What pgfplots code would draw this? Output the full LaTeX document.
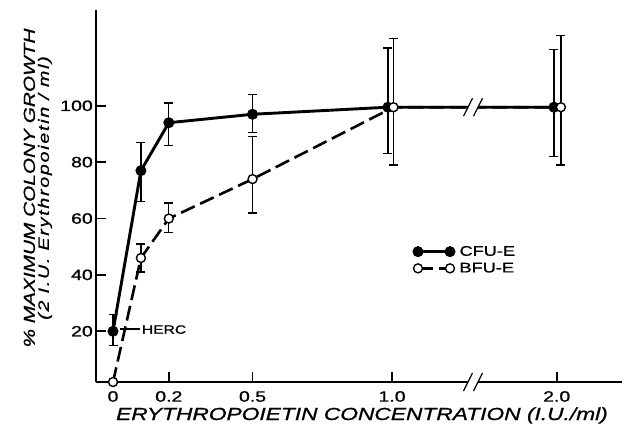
\documentclass[border=0pt]{standalone}
\usepackage{fontspec}
\setmainfont{Liberation Sans}[FakeStretch=1.3,FakeBold=1]
\usepackage{pgfplots}
\pgfplotsset{compat=1.18}
\usepackage{pgfplotstable}

% x positions: 0..1 linear; 2.0 I.U./ml is drawn at 1.59 (broken axis)
\pgfplotstableread{
x y ep em
0 20 6 5
0.1 77 10 11
0.2 94 7 8
0.5 97 7 6.5
0.985 99.5 21 16.5
1.58 99.5 20.5 17.5
}\cfue
\pgfplotstableread{
x y ep em
0 2 0 0
0.1 46 5 5
0.2 60 5.5 5
0.5 74 15 12
1.005 99.5 24.5 20.5
1.605 99.5 25.5 20.5
}\bfue

\begin{document}
\begin{tikzpicture}
\begin{axis}[name=ax, scale only axis, width=526bp, height=372bp,
  xmin=-0.061, xmax=1.824, ymin=2, ymax=134,
  clip=false,
  axis x line*=bottom, axis y line*=left,
  axis line style={-, line width=1.6bp},
  tick align=inside, major tick length=10bp, tick style={line width=1.6bp, black},
  xtick={0.2,0.5,1,1.59}, xticklabels={0.2,0.5,1.0,2.0},
  extra x ticks={0}, extra x tick labels={0}, extra x tick style={major tick length=0pt},
  ytick={20,40,60,80,100},
  /pgf/number format/assume math mode=true,
  ticklabel style={font=\fontsize{15bp}{18bp}\selectfont},
  xticklabel style={anchor=north, inner sep=0pt, yshift=-9bp},
  yticklabel style={anchor=east, inner sep=0pt, xshift=-3bp},
  xlabel={\itshape ERYTHROPOIETIN CONCENTRATION (I.U./ml)},
  xlabel style={font=\fontsize{17.5bp}{20bp}\selectfont, at={(axis description cs:0.5057,0)}, anchor=base, yshift=-38bp, inner sep=0pt},
  ylabel={\itshape \% MAXIMUM COLONY GROWTH\\{\fontsize{15bp}{14bp}\selectfont\itshape\addfontfeature{LetterSpace=12}(2 I.U. Erythropoietin / ml)}},
  ylabel style={font=\fontsize{16bp}{14bp}\selectfont, align=center, at={(axis description cs:-0.0833,0.5215)}, anchor=south, inner sep=0pt},
  legend style={at={(axis cs:1.075,45.3)}, anchor=west, draw=none, fill=none, inner sep=0pt, outer sep=0pt,
    font=\fontsize{14bp}{18bp}\selectfont, row sep=2.5bp, column sep=3bp, nodes={inner sep=1.5bp}},
  legend cell align=left,
  legend image code/.code={\draw[mark repeat=1,#1] plot coordinates {(0bp,0bp) (32bp,0bp)};},
]
\addplot[black, line width=2.9bp, mark=*, mark size=5bp, mark options={solid, line width=1bp, fill=black},
  error bars/.cd, y dir=both, y explicit, error bar style={solid, line width=1.3bp},
  error mark options={solid, line width=1.3bp, mark size=4.5bp, rotate=90}]
  table[x=x, y=y, y error plus=ep, y error minus=em]{\cfue};
\addlegendentry{CFU-E}
\addplot[black, line width=2.6bp, dash pattern=on 15bp off 6bp, mark=*, mark size=4.5bp, mark options={solid, fill=white, line width=1.4bp},
  error bars/.cd, y dir=both, y explicit, error bar style={solid, line width=1.3bp},
  error mark options={solid, line width=1.3bp, mark size=4.5bp, rotate=90}]
  table[x=x, y=y, y error plus=ep, y error minus=em]{\bfue};
\addlegendentry{BFU-E}
% axis breaks (data line)
\fill[white] ([xshift=-5bp,yshift=-3bp]axis cs:1.29,99.5) rectangle ([xshift=5bp,yshift=3bp]axis cs:1.29,99.5);
\draw[line width=1.3bp] ([xshift=-9.5bp,yshift=-9bp]axis cs:1.29,99.5) -- ([xshift=-0.5bp,yshift=9bp]axis cs:1.29,99.5);
\draw[line width=1.3bp] ([xshift=0.5bp,yshift=-9bp]axis cs:1.29,99.5) -- ([xshift=9.5bp,yshift=9bp]axis cs:1.29,99.5);
% axis breaks (x axis)
\fill[white] ([xshift=-5bp,yshift=-3bp]axis cs:1.29,2) rectangle ([xshift=5bp,yshift=3bp]axis cs:1.29,2);
\draw[line width=1.3bp] ([xshift=-9.5bp,yshift=-9bp]axis cs:1.29,2) -- ([xshift=-0.5bp,yshift=9bp]axis cs:1.29,2);
\draw[line width=1.3bp] ([xshift=0.5bp,yshift=-9bp]axis cs:1.29,2) -- ([xshift=9.5bp,yshift=9bp]axis cs:1.29,2);
% HERC annotation
\draw[line width=1.2bp] (axis cs:0.025,20.8) -- (axis cs:0.097,20.8);
\node[anchor=west, inner sep=0pt, font=\fontsize{12bp}{15bp}\selectfont] at (axis cs:0.103,20.6) {HERC};
\end{axis}
\path ([shift={(-96bp,-49bp)}]ax.south west) rectangle ([shift={(7bp,10bp)}]ax.north east);
\end{tikzpicture}
\end{document}
